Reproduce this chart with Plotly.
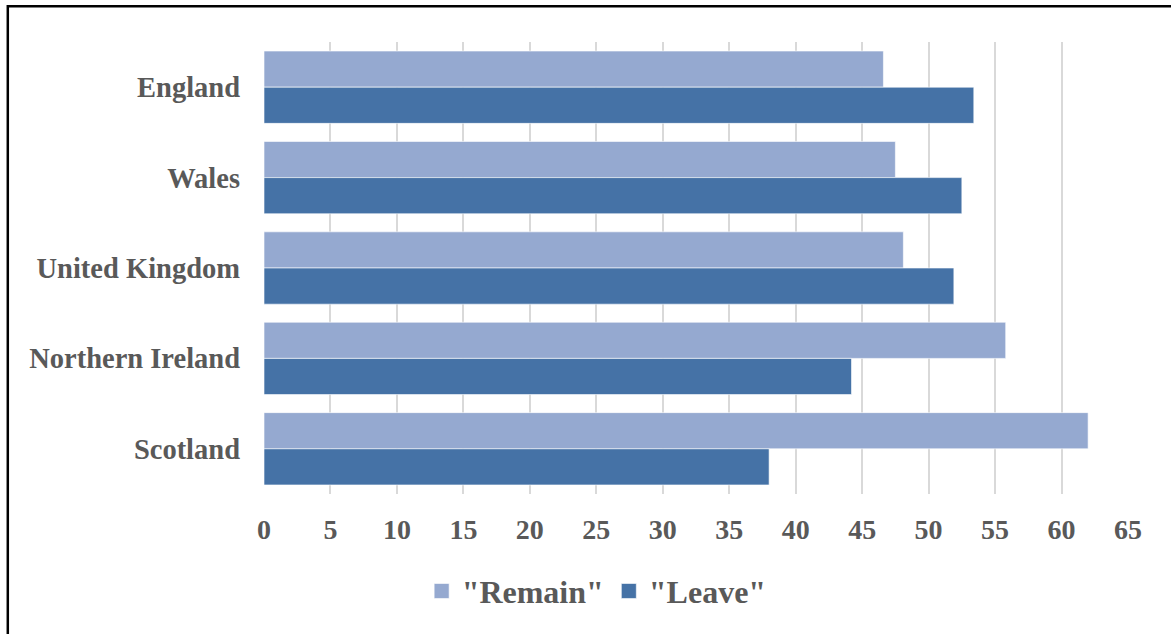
import plotly.graph_objects as go

regions = ["England", "Wales", "United Kingdom", "Northern Ireland", "Scotland"]
remain = [46.6, 47.5, 48.1, 55.8, 62.0]
leave = [53.4, 52.5, 51.9, 44.2, 38.0]
x_ticks = list(range(0, 70, 5))

W, H = 1171, 634
L, R, T, B = 264, 43, 42, 140
pw, ph = W - L - R, H - T - B

font_family = "Liberation Serif, Times New Roman, serif"
grey = "#595959"
c_remain = "#95a9d0"
c_leave = "#4572a6"

fig = go.Figure()
fig.add_trace(go.Bar(
    y=regions, x=remain, orientation="h", name='"Remain"', showlegend=False,
    marker=dict(color=c_remain, line=dict(color="rgba(255,255,255,0.6)", width=1)),
))
fig.add_trace(go.Bar(
    y=regions, x=leave, orientation="h", name='"Leave"', showlegend=False,
    marker=dict(color=c_leave, line=dict(color="rgba(255,255,255,0.6)", width=1)),
))
# legend entries with larger square swatches
for name, col in [('"Remain"', c_remain), ('"Leave"', c_leave)]:
    fig.add_trace(go.Scatter(
        x=[None], y=[None], mode="markers", name=name, showlegend=True,
        marker=dict(symbol="square", size=15, color=col,
                    line=dict(color="rgba(255,255,255,0.6)", width=1)),
    ))

fig.update_layout(
    width=W, height=H,
    margin=dict(l=L, r=R, t=T, b=B, pad=0),
    paper_bgcolor="white", plot_bgcolor="white",
    barmode="group", bargap=0.2, bargroupgap=0,
    font=dict(family=font_family, color=grey, size=28, weight="bold"),
    showlegend=True,
    legend=dict(
        orientation="h", x=0.385, xanchor="center", y=-0.215, yanchor="middle",
        font=dict(family=font_family, size=32, color=grey, weight="bold"),
        itemwidth=30, tracegroupgap=0,
        bgcolor="rgba(0,0,0,0)",
    ),
    xaxis=dict(
        range=[0, 65], tickvals=x_ticks, ticktext=[str(v) for v in x_ticks],
        showgrid=True, gridcolor="#d9d9d9", gridwidth=2,
        zeroline=False, showline=False, ticks="",
        ticklabelstandoff=16,
        tickfont=dict(family=font_family, size=28, color=grey, weight="bold"),
        fixedrange=True,
    ),
    yaxis=dict(
        autorange="reversed", showgrid=False, zeroline=False,
        showline=False, ticks="", ticklabelstandoff=23,
        tickfont=dict(family=font_family, size=28.5, color=grey, weight="bold"),
        fixedrange=True,
    ),
    shapes=[
        dict(type="rect", xref="paper", yref="paper",
             x0=(7.8 - L) / pw, x1=2.0,
             y0=-2.0, y1=(H - B - 6.2) / ph,
             line=dict(color="black", width=2.5), fillcolor="rgba(0,0,0,0)",
             layer="above"),
    ],
)

fig.write_html("out.html")
